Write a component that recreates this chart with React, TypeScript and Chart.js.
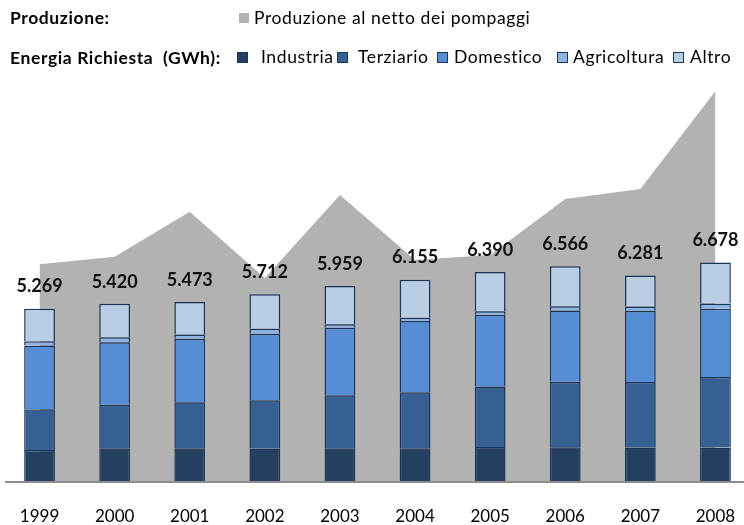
import React, { useEffect, useRef } from 'react';
import { Chart, registerables } from 'chart.js';

Chart.register(...registerables);

const years = ['1999', '2000', '2001', '2002', '2003', '2004', '2005', '2006', '2007', '2008'];
const industria = [946, 1001, 1004, 997, 999, 1000, 1043, 1029, 1028, 1026];
const terziario = [1251, 1334, 1400, 1473, 1620, 1712, 1850, 2003, 2000, 2150];
const domestico = [1943, 1910, 1946, 2034, 2066, 2180, 2187, 2181, 2177, 2092];
const agricoltura = [131, 153, 132, 152, 104, 101, 107, 131, 131, 161];
const altro = [998, 1022, 991, 1056, 1170, 1162, 1203, 1222, 945, 1249];
const produzione = [6625, 6857, 8233, 6206, 8743, 6756, 6909, 8621, 8926, 11922];

const FONT = 'Lato, "Open Sans", sans-serif';
const BORDER = '#1B3558';
const COLORS = {
  industria: '#243F60',
  terziario: '#366092',
  domestico: '#558ED5',
  agricoltura: '#8EB4E3',
  altro: '#B9CDE5',
  produzione: '#B2B2B2',
};

const fmt = (v: number) => `${Math.floor(v / 1000)}.${String(v % 1000).padStart(3, '0')}`;

const overlayPlugin = {
  id: 'overlay',
  afterDatasetsDraw(chart: any) {
    const ctx = chart.ctx;
    const x = chart.scales.x;
    const y = chart.scales.y;
    ctx.save();
    ctx.strokeStyle = '#8C8C8C';
    ctx.lineWidth = 2;
    const y0 = y.getPixelForValue(0) + 1;
    ctx.beginPath();
    ctx.moveTo(5, y0);
    ctx.lineTo(chart.width, y0);
    ctx.stroke();
    ctx.fillStyle = '#111';
    ctx.textAlign = 'center';
    ctx.textBaseline = 'middle';
    ctx.font = `bold 18px ${FONT}`;
    years.forEach((_, i) => {
      const total = industria[i] + terziario[i] + domestico[i] + agricoltura[i] + altro[i];
      const px = x.getPixelForValue(i);
      const py = y.getPixelForValue(total);
      ctx.fillText(fmt(total), px, py - 22);
    });
    ctx.font = `17px ${FONT}`;
    ctx.fillStyle = '#000';
    years.forEach((yr, i) => {
      ctx.fillText(yr, x.getPixelForValue(i), 517);
    });
    ctx.restore();
  },
};

function LegendSquare({ left, top, color, border }: { left: number; top: number; color: string; border?: boolean }) {
  return (
    <div
      style={{
        position: 'absolute',
        left,
        top,
        width: border ? 9 : 10,
        height: border ? 9 : 10,
        background: color,
        border: border ? `1px solid ${BORDER}` : 'none',
      }}
    />
  );
}

function Label({ left, top, text, bold }: { left: number; top: number; text: string; bold?: boolean }) {
  return (
    <div
      style={{
        position: 'absolute',
        left,
        top,
        fontFamily: FONT,
        fontSize: 17.5,
        letterSpacing: 0.6,
        fontWeight: bold ? 700 : 400,
        lineHeight: '20px',
        whiteSpace: 'pre',
        color: '#000',
      }}
    >
      {text}
    </div>
  );
}

export default function App() {
  const ref = useRef<HTMLCanvasElement>(null);

  useEffect(() => {
    if (!ref.current) return;
    const barDs = (label: string, data: number[], color: string) => ({
      type: 'bar' as const,
      label,
      data,
      backgroundColor: color,
      borderColor: BORDER,
      borderWidth: 1.5,
      stack: 'energia',
      order: 0,
      barPercentage: 0.41,
      categoryPercentage: 1,
    });
    const chart = new Chart(ref.current, {
      type: 'bar',
      data: {
        labels: years,
        datasets: [
          barDs('Industria', industria, COLORS.industria),
          barDs('Terziario', terziario, COLORS.terziario),
          barDs('Domestico', domestico, COLORS.domestico),
          barDs('Agricoltura', agricoltura, COLORS.agricoltura),
          barDs('Altro', altro, COLORS.altro),
          {
            type: 'line' as const,
            label: 'Produzione al netto dei pompaggi',
            data: produzione,
            backgroundColor: COLORS.produzione,
            borderWidth: 0,
            pointRadius: 0,
            fill: 'origin',
            tension: 0,
            stack: 'produzione',
            order: 1,
          } as any,
        ],
      },
      options: {
        responsive: false,
        animation: false,
        devicePixelRatio: 1,
        layout: { padding: { left: 2, right: 7, top: 80, bottom: 44 } },
        plugins: { legend: { display: false }, tooltip: { enabled: false } },
        scales: {
          x: { display: false, stacked: true, offset: true, grid: { display: false } },
          y: { display: false, stacked: true, min: 0, max: 12260, grid: { display: false } },
        },
      },
      plugins: [overlayPlugin],
    });
    return () => chart.destroy();
  }, []);

  return (
    <div style={{ position: 'fixed', left: 0, top: 0, width: 744, height: 525, overflow: 'hidden', background: '#fff' }}>
      <canvas ref={ref} width={760} height={525} style={{ position: 'absolute', left: 0, top: 0, width: 760, height: 525 }} />
      <Label left={10} top={8} text="Produzione:" bold />
      <LegendSquare left={239} top={13} color={COLORS.produzione} />
      <Label left={254} top={8} text="Produzione al netto dei pompaggi" />
      <Label left={10} top={48} text="Energia Richiesta  (GWh):" bold />
      <LegendSquare left={237} top={52} color={COLORS.industria} border />
      <Label left={261} top={47} text="Industria" />
      <LegendSquare left={337} top={52} color={COLORS.terziario} border />
      <Label left={358} top={47} text="Terziario" />
      <LegendSquare left={437} top={52} color={COLORS.domestico} border />
      <Label left={454} top={47} text="Domestico" />
      <LegendSquare left={557} top={52} color={COLORS.agricoltura} border />
      <Label left={573} top={47} text="Agricoltura" />
      <LegendSquare left={673} top={52} color={COLORS.altro} border />
      <Label left={690} top={47} text="Altro" />
    </div>
  );
}
